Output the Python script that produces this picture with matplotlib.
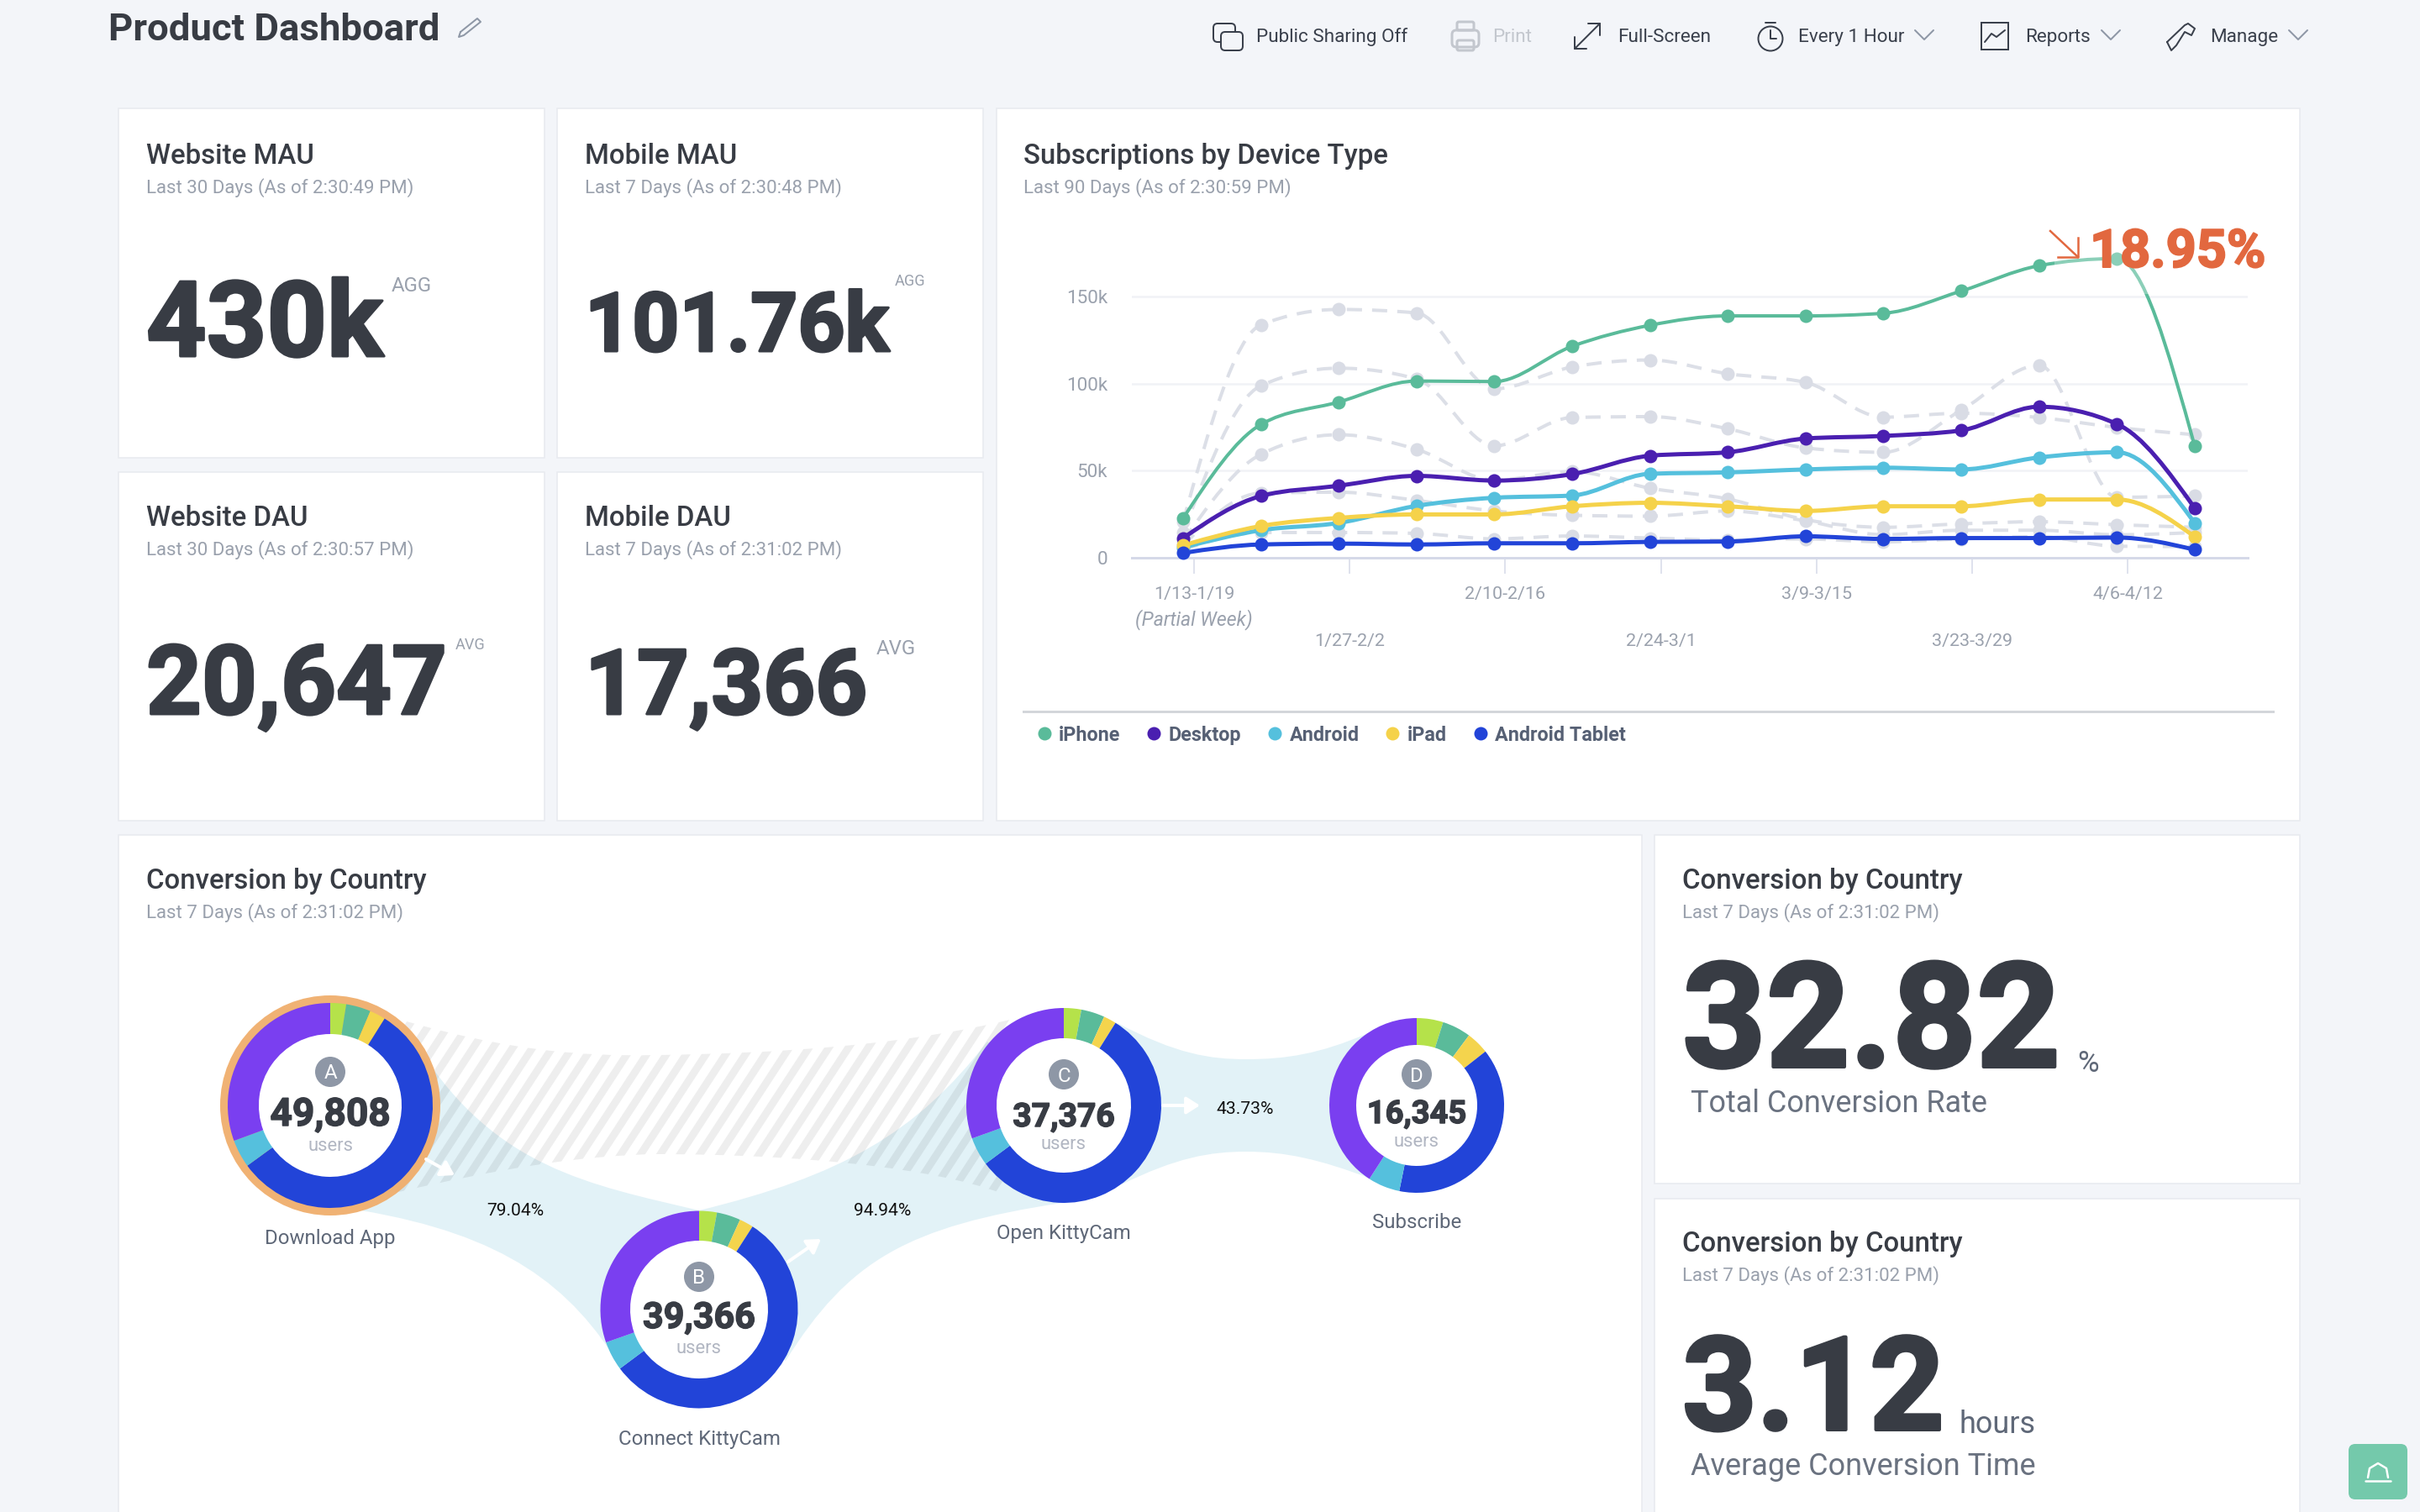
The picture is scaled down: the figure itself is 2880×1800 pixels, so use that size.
import numpy as np
import matplotlib
matplotlib.use("Agg")
import matplotlib.pyplot as plt
import matplotlib.patheffects as pe
from matplotlib.path import Path
from matplotlib.patches import PathPatch, Circle, FancyBboxPatch, Rectangle
from matplotlib.collections import LineCollection

W, H, DPI = 2880, 1800, 100
plt.rcParams['font.family'] = ['Roboto', 'DejaVu Sans']

# ---------- data ----------
weeks = list(range(14))
iphone = [22.5, 76.5, 89.4, 101.5, 101.2, 121.5, 133.6, 139, 139, 140.5, 153.3, 167.9, 172, 64.2]
desktop = [11.1, 35.3, 41.2, 46.9, 44.2, 47.9, 58.5, 60.5, 68.4, 69.9, 73.1, 86.7, 76.8, 28.4]
android = [5.7, 15.6, 19.8, 29.6, 34.3, 35.6, 48.1, 48.9, 50.6, 51.6, 50.6, 57.5, 60.5, 19.8]
ipad = [6.9, 18, 22.7, 24.7, 24.7, 29.4, 31.4, 29.4, 26.7, 29.4, 29.4, 33.3, 33.3, 11.9]
tablet = [2.5, 7.4, 7.9, 7.4, 8.1, 8.1, 8.9, 9.1, 12.1, 10.6, 11.1, 11.1, 11.4, 4.4]
prev_a = [20.5, 133.8, 142.7, 140.7, 97, 109.6, 113.6, 105.7, 100.7, 80.7, 83, 80.5, 74.8, 70.6]
prev_b = [14.3, 98.8, 108.9, 102.7, 64.2, 80.5, 81, 74, 63, 60.5, 84.7, 110.6, 34.6, 35.3]
prev_c = [9.4, 59.3, 70.6, 62.2, 44.4, 49.4, 39.8, 33.6, 21.7, 17.3, 19.3, 20.5, 18.8, 17.3]
prev_d = [6.9, 37, 37.5, 32.8, 26.7, 24.2, 23.7, 26.7, 21, 13, 15.6, 15.6, 13, 14.3]
prev_e = [4.4, 14.3, 14.3, 13.8, 10.6, 12.3, 11.1, 9.9, 10.6, 8.9, 10.6, 11.9, 6.4, 6.2]
series_names = ['iPhone', 'Desktop', 'Android', 'iPad', 'Android Tablet']
series_colors = ['#5abb9a', '#4a1fb0', '#55c0dd', '#f5d24a', '#2244d8']
tick_labels = ['1/13-1/19', '1/27-2/2', '2/10-2/16', '2/24-3/1', '3/9-3/15', '3/23-3/29', '4/6-4/12']
y_ticks = [0, 50, 100, 150]
y_tick_labels = ['0', '50k', '100k', '150k']

slice_colors = ['#b5e24a', '#5abb9a', '#f4d44d', '#2244d8', '#55c0dd', '#7a3ff0']
shares_a = [2.5, 3.9, 2.5, 56.1, 4.4, 30.6]
shares_b = [2.9, 3.9, 2.3, 55.7, 4.8, 30.4]
shares_c = [2.9, 3.9, 2.1, 55.9, 4.7, 30.5]
shares_d = [4.9, 5.3, 4.2, 38.8, 5.9, 40.9]
funnel_letters = ['A', 'B', 'C', 'D']
funnel_counts = ['49,808', '39,366', '37,376', '16,345']
funnel_names = ['Download App', 'Connect KittyCam', 'Open KittyCam', 'Subscribe']
funnel_rates = ['79.04%', '94.94%', '43.73%']

# ---------- page ----------
fig = plt.figure(figsize=(W / DPI, H / DPI), dpi=DPI, facecolor='#f3f5f9')
pg = fig.add_axes([0, 0, 1, 1], zorder=0)
pg.set_xlim(0, W); pg.set_ylim(H, 0); pg.axis('off')

DARK, GREY, MID = '#383c44', '#9aa1ad', '#5f6878'

def pt(px):
    return px * 72 / DPI

def T(x, y, s, px, color=DARK, weight='normal', ha='left', style='normal', ax=pg, zorder=5, fat=0):
    t = ax.text(x, y, s, fontsize=pt(px), color=color, fontweight=weight, ha=ha, va='baseline',
                fontstyle=style, zorder=zorder)
    if fat:
        t.set_path_effects([pe.withStroke(linewidth=pt(fat), foreground=color)])
    return t

def card(x0, y0, x1, y1):
    pg.add_patch(Rectangle((x0, y0), x1 - x0, y1 - y0, fc='white', ec='#e9ebf0', lw=1.2, zorder=1))

for c in [(141, 129, 648, 545), (663, 129, 1170, 545), (141, 562, 648, 977), (663, 562, 1170, 977),
          (1186, 129, 2737, 977), (141, 994, 1954, 1810), (1969, 994, 2737, 1409), (1969, 1427, 2737, 1810)]:
    card(*c)

T(129, 48, 'Product Dashboard', 45.5, DARK, 'bold')

def stroke(xs, ys, color='#3a404c', lw=2.0, z=6, **kw):
    pg.plot(xs, ys, color=color, lw=pt(lw), zorder=z, solid_capstyle='round', solid_joinstyle='round', **kw)

def rrect(x, y, w, h, color='#3a404c', lw=2.0, r=5, fc='none'):
    pg.add_patch(FancyBboxPatch((x + r, y + r), w - 2 * r, h - 2 * r, boxstyle=f'round,pad={r}',
                                fc=fc, ec=color, lw=pt(lw), zorder=6))

# pencil
stroke([548, 568, 572, 552, 546, 548], [38, 22, 26, 42, 44, 38], color='#8e97a6')

toolbar = [('Public Sharing Off', 1495, '#3a404c'), ('Print', 1776, '#c3c7ce'), ('Full-Screen', 1925, '#3a404c'),
           ('Every 1 Hour', 2140, '#3a404c'), ('Reports', 2410, '#3a404c'), ('Manage', 2630, '#3a404c')]
for s, x, col in toolbar:
    T(x, 50, s, 22.5, col)
# icons
rrect(1444, 28, 26, 22); rrect(1453, 38, 26, 22, fc='#f3f5f9')
rrect(1728, 36, 32, 20, color='#c3c7ce', lw=3); rrect(1734, 26, 20, 10, color='#c3c7ce', lw=3, r=2)
rrect(1734, 48, 20, 12, color='#c3c7ce', lw=3, r=2)
stroke([1874, 1904], [58, 28]); stroke([1890, 1904, 1904], [28, 28, 42]); stroke([1874, 1874, 1888], [44, 58, 58])
pg.add_patch(Circle((2107, 46), 14.5, fc='none', ec='#3a404c', lw=pt(2), zorder=6))
stroke([2107, 2107, 2114], [36, 46, 46]); stroke([2101, 2113], [27, 27])
pg.add_patch(Rectangle((2358, 27), 32, 32, fc='none', ec='#3a404c', lw=pt(2), zorder=6))
stroke([2362, 2370, 2376, 2386], [50, 40, 44, 36])
stroke([2579, 2600, 2604, 2612, 2608, 2600, 2590, 2584, 2579], [50, 30, 28, 34, 42, 38, 54, 60, 50])
for x0 in (2279, 2501, 2724):
    stroke([x0, x0 + 11, x0 + 22], [36, 47, 36], color='#8e97a6')

# KPI cards
def head(x, y, title, sub):
    T(x, y, title, 33, DARK, 'medium')
    T(x, y + 35, sub, 22.3, GREY)

head(174, 195, 'Website MAU', 'Last 30 Days (As of 2:30:49 PM)')
head(696, 195, 'Mobile MAU', 'Last 7 Days (As of 2:30:48 PM)')
head(174, 626, 'Website DAU', 'Last 30 Days (As of 2:30:57 PM)')
head(696, 626, 'Mobile DAU', 'Last 7 Days (As of 2:31:02 PM)')
head(1218, 195, 'Subscriptions by Device Type', 'Last 90 Days (As of 2:30:59 PM)')
head(174, 1058, 'Conversion by Country', 'Last 7 Days (As of 2:31:02 PM)')
head(2002, 1058, 'Conversion by Country', 'Last 7 Days (As of 2:31:02 PM)')
head(2002, 1490, 'Conversion by Country', 'Last 7 Days (As of 2:31:02 PM)')

T(174, 424, '430k', 125, DARK, 'bold', fat=3)
T(466, 347, 'AGG', 24, GREY)
T(696, 418, '101.76k', 98, DARK, 'bold', fat=3)
T(1065, 340, 'AGG', 18, GREY)
T(174, 850, '20,647', 115, DARK, 'bold', fat=3)
T(542, 773, 'AVG', 18, GREY)
T(696, 850, '17,366', 108, DARK, 'bold', fat=3)
T(1043, 779, 'AVG', 24, GREY)
T(2002, 1270, '32.82', 174, DARK, 'bold', fat=4)
T(2472, 1276, '%', 35, MID)
T(2012, 1324, 'Total Conversion Rate', 36, '#6a7280')
T(2002, 1702, '3.12', 155, DARK, 'bold', fat=4)
T(2332, 1706, 'hours', 36, MID)
T(2012, 1756, 'Average Conversion Time', 36, '#6a7280')

# help button
pg.add_patch(FancyBboxPatch((2803, 1727), 54, 50, boxstyle='round,pad=8', fc='#74c9ab', ec='none', zorder=6))
stroke([2815, 2845], [1763, 1763], color='white', lw=2.5, z=7)
stroke([2818, 2820, 2830, 2840, 2842], [1759, 1748, 1742, 1748, 1759], color='white', lw=2.5, z=7)

# ---------- line chart ----------
AX0, AX1, Y0, YT = 1347, 2675, 663.5, 300
ax = fig.add_axes([AX0 / W, 1 - Y0 / H, (AX1 - AX0) / W, (Y0 - YT) / H], zorder=2)
ax.patch.set_alpha(0)
ax.set_xlim((AX0 - 1408) / 92.6, (AX1 - 1408) / 92.6)
ax.set_ylim(0, (Y0 - YT) / 310.2 * 150)

def monotone_path(x, y):
    x = np.asarray(x, float); y = np.asarray(y, float)
    h = np.diff(x); s = np.diff(y) / h
    m = np.zeros_like(y)
    for i in range(1, len(y) - 1):
        if s[i - 1] * s[i] > 0:
            p = (s[i - 1] * h[i] + s[i] * h[i - 1]) / (h[i - 1] + h[i])
            m[i] = (np.sign(s[i - 1]) + np.sign(s[i])) * min(abs(s[i - 1]), abs(s[i]), 0.5 * abs(p))
    m[0] = (3 * s[0] - m[1]) / 2
    m[-1] = (3 * s[-1] - m[-2]) / 2
    verts = [(x[0], y[0])]; codes = [Path.MOVETO]
    for i in range(len(h)):
        verts += [(x[i] + h[i] / 3, y[i] + m[i] * h[i] / 3), (x[i + 1] - h[i] / 3, y[i + 1] - m[i + 1] * h[i] / 3), (x[i + 1], y[i + 1])]
        codes += [Path.CURVE4] * 3
    return Path(verts, codes)

for s in (prev_a, prev_b, prev_c, prev_d, prev_e):
    ax.add_patch(PathPatch(monotone_path(weeks, s), fc='none', ec='#dcdfe7', lw=pt(4),
                           ls=(0, (4.5, 3)), zorder=2, clip_on=False))
    ax.plot(weeks, s, 'o', color='#d9dce5', ms=pt(16), mew=0, zorder=2, clip_on=False)

for s, name, col, lw in zip((iphone, desktop, android, ipad, tablet), series_names, series_colors, (4, 5, 5, 5, 5)):
    ax.add_patch(PathPatch(monotone_path(weeks, s), fc='none', ec=col, lw=pt(lw), zorder=3, clip_on=False))
    ax.plot(weeks, s, 'o', color=col, ms=pt(16), mew=0, zorder=4, clip_on=False, label=name)

ax.set_yticks(y_ticks)
ax.set_yticklabels(y_tick_labels, fontsize=pt(22.5), color=GREY)
ax.tick_params(axis='y', length=0, pad=pt(29))
ax.grid(axis='y', color='#f1f2f6', lw=pt(2.5), zorder=1)
ax.set_xticks([0.14 + 2 * i for i in range(len(tick_labels))])
ax.set_xticklabels(tick_labels, fontsize=pt(21.5), color=GREY)
ax.tick_params(axis='x', length=pt(19), width=pt(1.5), color='#d5d9e8')
for i, t in enumerate(ax.xaxis.get_major_ticks()):
    t.set_pad(pt(15) if i % 2 == 0 else pt(72))
for k in ('top', 'left', 'right'):
    ax.spines[k].set_visible(False)
ax.spines['bottom'].set_color('#d5d9e8')
ax.spines['bottom'].set_linewidth(pt(3))
ax.set_axisbelow(True)

T(1421, 744, '(Partial Week)', 23, GREY, style='italic', ha='center')
pg.plot([1218, 2705], [847, 847], color='#d3d6da', lw=pt(3), zorder=2)
fig.legend(*ax.get_legend_handles_labels(), loc='center left', bbox_to_anchor=(1225 / W, 1 - 875 / H), ncol=5,
           frameon=False, handletextpad=0.0, columnspacing=0.95, handlelength=1.5, numpoints=1,
           markerscale=1.0, labelcolor='#566074',
           prop={'size': pt(23.4), 'weight': 'bold', 'family': 'Roboto'}, borderpad=0, borderaxespad=0)

# callout
top = fig.add_axes([0, 0, 1, 1], zorder=3)
top.set_xlim(0, W); top.set_ylim(H, 0); top.axis('off')
top.add_patch(Rectangle((2445, 300), 250, 50, fc='white', ec='none', alpha=0.3))
T(2487, 318, '18.95%', 63, '#e2683f', 'bold', ax=top, fat=2)
top.plot([2440, 2473], [275, 306], color='#e2683f', lw=pt(2.5))
top.plot([2473, 2473, 2449], [283, 306, 306], color='#e2683f', lw=pt(2.5))

# ---------- funnel ----------
def ribbon(verts, codes, fc='#e2f2f7', z=2):
    p = PathPatch(Path(verts, codes), fc=fc, ec='none', zorder=z)
    pg.add_patch(p)
    return p

M, C, Z = Path.MOVETO, Path.CURVE4, Path.CLOSEPOLY
L = Path.LINETO
# hatched drop-off
hp = ribbon([(470, 1212), (600, 1250), (690, 1258), (780, 1256), (930, 1254), (1080, 1244), (1210, 1212),
             (1210, 1300), (1200, 1400), (1190, 1420), (1110, 1390), (950, 1374), (780, 1374), (690, 1376), (600, 1390), (470, 1420),
             (470, 1212)],
            [M, C, C, C, C, C, C, L, L, L, C, C, C, C, C, C, Z], fc='none', z=3)
hx = np.arange(350, 1300, 23.5)
lines = LineCollection([[(x, 1430), (x + 150, 1200)] for x in hx], colors='#000000', alpha=0.065, linewidths=pt(9), zorder=3)
pg.add_collection(lines)
lines.set_clip_path(hp)
# A -> B
ribbon([(500, 1250), (590, 1390), (700, 1410), (832, 1441), (832, 1560), (740, 1630), (680, 1530), (600, 1470), (430, 1441), (500, 1250)],
       [M, C, C, C, L, L, C, C, C, Z])
# B -> C
ribbon([(832, 1441), (1000, 1400), (1090, 1350), (1175, 1240), (1266, 1316), (1264, 1432), (1080, 1460), (1010, 1500), (935, 1620), (832, 1560), (832, 1441)],
       [M, C, C, C, L, L, C, C, C, L, Z])
# C -> D
ribbon([(1330, 1218), (1400, 1255), (1440, 1261), (1483, 1261), (1530, 1261), (1570, 1255), (1628, 1230),
        (1631, 1403), (1570, 1380), (1530, 1371), (1483, 1371), (1440, 1371), (1400, 1378), (1335, 1410), (1330, 1218)],
       [M, C, C, C, C, C, C, L, C, C, C, C, C, C, Z])

# ring around the first step
pg.add_patch(Circle((393, 1316), 131, fc='#f0ae6c', ec='none', alpha=0.95, zorder=4))

donuts = [(393, 1316, 122, 85, shares_a, 1276, 1340, 1370, 1481, 46),
          (832, 1559, 117.5, 82, shares_b, 1520, 1581, 1611, 1720, 43),
          (1266, 1316, 116, 80, shares_c, 1279, 1341, 1368, 1475, 39),
          (1686, 1316, 104, 72, shares_d, 1279, 1337, 1365, 1462, 38)]
for (cx, cy, R, r, sh, by, ny, uy, ly, ns), let, cnt, name in zip(donuts, funnel_letters, funnel_counts, funnel_names):
    a = fig.add_axes([(cx - R) / W, 1 - (cy + R) / H, 2 * R / W, 2 * R / H], zorder=4)
    a.pie(sh, colors=slice_colors, startangle=90, counterclock=False, radius=1,
          wedgeprops={'width': 1 - r / R, 'lw': 0})
    a.set_xlim(-1, 1); a.set_ylim(-1, 1)
    pg.add_patch(Circle((cx, cy), r + 2, fc='white', ec='none', zorder=4))
    pg.add_patch(Circle((cx, by), 18, fc='#8e97a6', ec='none', zorder=5))
    T(cx, by + 8.5, let, 24, 'white', ha='center', zorder=6)
    T(cx, ny, cnt, ns, DARK, 'bold', ha='center', fat=1.5)
    T(cx, uy, 'users', 22, '#b1b6c2', ha='center')
    T(cx, ly, name, 24, MID, ha='center')

for x, y, s in zip((613, 1050, 1482), (1447, 1447, 1326), funnel_rates):
    T(x, y, s, 21, '#111111', ha='center')

for (x0, y0, x1, y1) in [(507, 1380, 541, 1399), (938, 1502, 977, 1475), (1384, 1316, 1428, 1316)]:
    pg.annotate('', xy=(x1, y1), xytext=(x0, y0), zorder=5,
                arrowprops=dict(arrowstyle='-|>,head_width=0.35,head_length=0.55', color='white', lw=pt(4), shrinkA=0, shrinkB=0, mutation_scale=pt(24)))

fig.savefig('out.png', dpi=DPI, facecolor=fig.get_facecolor())
